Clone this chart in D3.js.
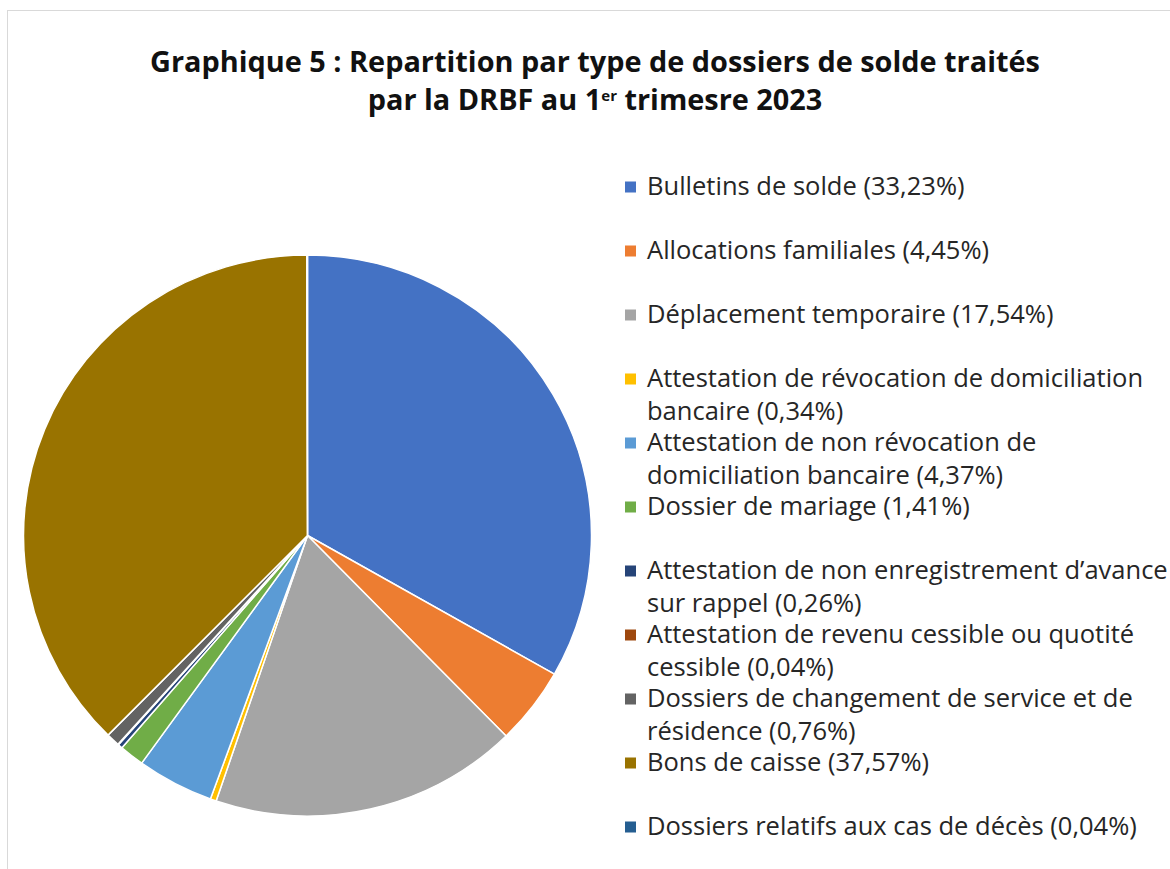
<!DOCTYPE html>
<html><head><meta charset="utf-8">
<script src="https://cdn.jsdelivr.net/npm/d3@7"></script>
<style>
html,body{margin:0;padding:0;background:#fff;overflow:hidden}
svg{display:block}
text{font-variant-ligatures:none}
</style></head>
<body>
<script>
// ---- data ----
const categories = [
  "Bulletins de solde",
  "Allocations familiales",
  "Déplacement temporaire",
  "Attestation de révocation de domiciliation\nbancaire",
  "Attestation de non révocation de\ndomiciliation bancaire",
  "Dossier de mariage",
  "Attestation de non enregistrement d’avance\nsur rappel",
  "Attestation de revenu cessible ou quotité\ncessible",
  "Dossiers de changement de service et de\nrésidence",
  "Bons de caisse",
  "Dossiers relatifs aux cas de décès"
];
const percentages = [33.23, 4.45, 17.54, 0.34, 4.37, 1.41, 0.26, 0.04, 0.76, 37.57, 0.04];
const colors = ["#4472C4","#ED7D31","#A5A5A5","#FFC000","#5B9BD5","#70AD47","#264478","#9E480E","#636363","#997300","#255E91"];
const titleLines = ["Graphique 5 : Repartition par type de dossiers de solde traités", "par la DRBF au 1", "er", " trimesre 2023"];

const W = 1170, H = 869;
const FONT = "'Open Sans', Lato, sans-serif";
const svg = d3.select("body").append("svg").attr("width", W).attr("height", H);

// border
svg.append("rect").attr("x", 7.5).attr("y", 10.5).attr("width", W + 20).attr("height", H + 20)
  .attr("fill", "none").attr("stroke", "#d9d9d9").attr("stroke-width", 1);

// title
const title = svg.append("text").attr("text-anchor", "middle")
  .attr("font-family", FONT).attr("font-weight", 700)
  .attr("font-size", 25).attr("fill", "#111");
const t1 = title.append("tspan").attr("x", 595).attr("y", 72).text(titleLines[0]);
const l2 = title.append("tspan").attr("x", 595).attr("y", 110);
l2.append("tspan").text(titleLines[1]);
l2.append("tspan").attr("font-size", 15).attr("dy", -9).text(titleLines[2]);
l2.append("tspan").attr("dy", 9).text(titleLines[3]);
// fit title width to 890
{
  const w = t1.node().getComputedTextLength();
  title.attr("font-size", 25 * 890 / w);
}

// pie
const cx = 307.5, cy = 535.5, r = 284;
const pie = d3.pie().sort(null).value(d => d)(percentages);
const arc = d3.arc().innerRadius(0).outerRadius(r);
const g = svg.append("g").attr("transform", `translate(${cx},${cy}) scale(1,0.9875)`);
g.selectAll("path").data(pie).join("path")
  .attr("d", arc)
  .attr("fill", (d, i) => colors[i])
  .attr("stroke", "#fff").attr("stroke-width", 1.5).attr("stroke-linejoin", "round");

// legend
const fmt = v => v.toFixed(2).replace(".", ",");
const legend = svg.append("g").attr("font-family", FONT)
  .attr("font-size", 20).attr("fill", "#262626");
const y0 = 187, step = 64, lh = 33;
let refText = null;
categories.forEach((c, i) => {
  const y = y0 + step * i;
  legend.append("rect").attr("x", 625).attr("y", y - 5.5).attr("width", 11).attr("height", 11).attr("fill", colors[i]);
  const lines = (c + " (" + fmt(percentages[i]) + "%)").split("\n");
  const t = legend.append("text");
  lines.forEach((ln, j) => {
    const ts = t.append("tspan").attr("x", 647).attr("y", y + 7.5 + j * lh).text(ln);
    if (i === 10) refText = ts;
  });
});
{
  const w = refText.node().getComputedTextLength();
  legend.attr("font-size", 20 * 490 / w);
}
</script>
</body></html>
